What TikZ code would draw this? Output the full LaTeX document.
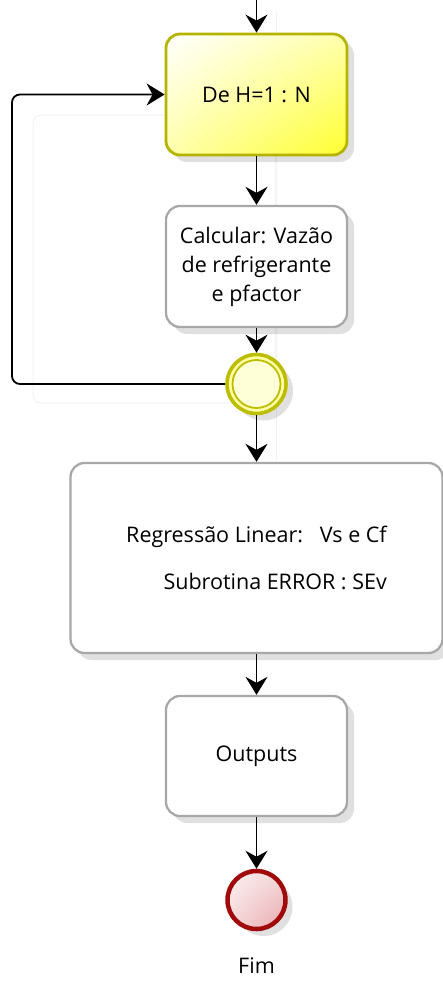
\documentclass[tikz,border=0pt]{standalone}
\usepackage{fontspec}
\setmainfont{Open Sans}
\usetikzlibrary{arrows.meta,shadows,shadings}
\definecolor{yborder}{HTML}{B4B400}
\definecolor{yfill}{HTML}{FFFF30}
\definecolor{gborder}{HTML}{A8A8A8}
\definecolor{gwborder}{HTML}{BDBD00}
\definecolor{gwfill}{HTML}{FFFF9A}
\definecolor{rborder}{HTML}{A00A0A}
\definecolor{rfill}{HTML}{E8A8AC}
\begin{document}
\begin{tikzpicture}[x=1pt,y=-1pt,
  conn/.style={line width=1.8pt,-{Stealth[length=18pt,width=22pt,inset=6pt]}},
  loopconn/.style={conn,rounded corners=8pt},
  txt/.style={font=\fontsize{21.5}{29}\selectfont},
  shad/.style={drop shadow={shadow xshift=7pt,shadow yshift=-7pt,opacity=0.12,fill=black}},
  task/.style={rectangle,rounded corners=14pt,draw=gborder,line width=2.3pt,
    fill=white,minimum width=181pt,minimum height=121pt,align=center,inner sep=0pt,txt,shad},
  loopbox/.style={task,draw=yborder,line width=2.8pt,upper left=white,upper right=yfill!40!white,
    lower left=yfill!40!white,lower right=yfill},
  gateway/.style={circle,draw=gwborder,line width=3.6pt,minimum size=59pt,inner sep=0pt,
    inner color=white,outer color=gwfill,shad},
  endev/.style={circle,draw=rborder,line width=4.5pt,minimum size=58pt,inner sep=0pt,
    upper left=white!85!rfill,upper right=white!55!rfill,lower left=white!55!rfill,lower right=rfill,shad},
  faint/.style={draw=black!5,line width=1pt}
]
\useasboundingbox (0,0) rectangle (443,983);
% faint background outlines
\draw[faint,rounded corners=8pt] (33,115) rectangle (275,403);
\draw[faint] (276,12) -- (276,460);

\coordinate (start) at (256.5,0);
\node[loopbox] (yel) at (256.5,94.5) {De H=1 : N};
\node[task] (calc) at (256.5,266.5) {Calcular: Vazão\\de refrigerante\\e pfactor};
\node[gateway] (gw) at (256.5,384) {};
\draw[gwborder,line width=1.8pt,fill=gwfill!40!white] (gw.center) circle (24pt);
\node[task,minimum width=372pt,minimum height=190pt,align=right] (reg) at (256.5,558)
  {Regressão Linear:\ \ \ Vs e Cf\\[18pt]Subrotina ERROR : SEv};
\node[task,minimum height=120pt] (out) at (256.5,756) {Outputs};
\node[endev] (fim) at (256.5,900) {};
\node[txt,anchor=center] (fimlabel) at (256.5,966) {Fim};
\coordinate (loopL) at (12,384);

\draw[conn] (start) -- (yel.north);
\draw[conn] (yel.south) -- (calc.north);
\draw[conn] (calc.south) -- (gw.north);
\draw[loopconn] (gw.west) -- (loopL) -- (loopL |- yel.west) -- (yel.west);
\draw[conn] (gw.south) -- (reg.north);
\draw[conn] (reg.south) -- (out.north);
\draw[conn] (out.south) -- (fim.north);
\end{tikzpicture}
\end{document}
